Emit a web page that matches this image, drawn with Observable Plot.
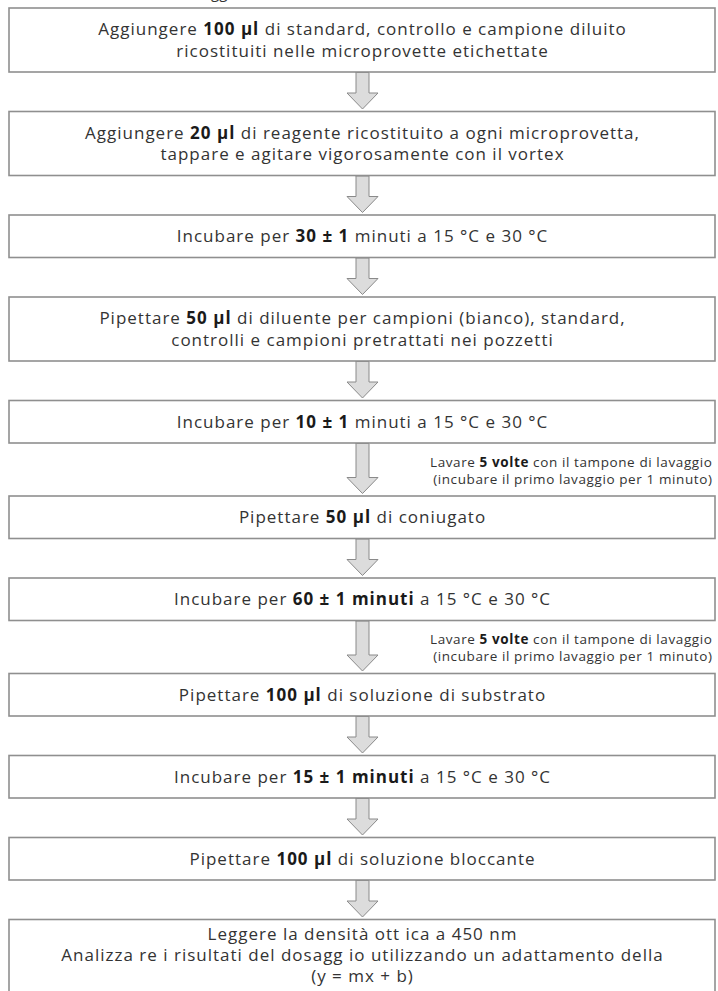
<!DOCTYPE html>
<html><head><meta charset="utf-8">
<script src="https://cdn.jsdelivr.net/npm/d3@7"></script>
<script src="https://cdn.jsdelivr.net/npm/@observablehq/plot@0.6"></script>
<style>html,body{margin:0;padding:0;background:#fff;overflow:hidden}svg{display:block}</style>
</head><body><div id="chart"></div>
<script>
// ---- data ----
const heading = "Schema riassuntivo del dosaggio";
const stepLines = [
  ["Aggiungere **100 µl** di standard, controllo e campione diluito", "ricostituiti nelle microprovette etichettate"],
  ["Aggiungere **20 µl** di reagente ricostituito a ogni microprovetta,", "tappare e agitare vigorosamente con il vortex"],
  ["Incubare per **30 ± 1** minuti a 15 °C e 30 °C"],
  ["Pipettare **50 µl** di diluente per campioni (bianco), standard,", "controlli e campioni pretrattati nei pozzetti"],
  ["Incubare per **10 ± 1** minuti a 15 °C e 30 °C"],
  ["Pipettare **50 µl** di coniugato"],
  ["Incubare per **60 ± 1 minuti** a 15 °C e 30 °C"],
  ["Pipettare **100 µl** di soluzione di substrato"],
  ["Incubare per **15 ± 1 minuti** a 15 °C e 30 °C"],
  ["Pipettare **100 µl** di soluzione bloccante"],
  ["Leggere la densità ott ica a 450 nm", "Analizza re i risultati del dosagg io utilizzando un adattamento della", "(y = mx + b)"]
];
const noteAfterStep = [4, 6];
const noteLines = ["Lavare **5 volte** con il tampone di lavaggio", "(incubare il primo lavaggio per 1 minuto)"];

// ---- layout (computed) ----
const W = 718, H = 991;
const L = {top: 8, left: 9, right: 715, lineH: 21.5, pad: 21, gap: 39.5, noteGap: 53};
const cx = (L.left + L.right) / 2;
const boxes = [], lines = [], arrows = [], notes = [];
let y = L.top;
stepLines.forEach((ls, i) => {
  const h = L.pad + L.lineH * ls.length;
  boxes.push({i, x1: L.left, x2: L.right, y1: y, y2: y + h});
  const vis = Math.min(h, H - y - 1);
  const sp = Math.min(L.lineH, (vis - 7.5) / ls.length);
  const start = y + (vis - sp * ls.length) / 2 + sp / 2;
  ls.forEach((t, j) => lines.push({x: cx, y: start + j * sp, text: t}));
  const hasNote = noteAfterStep.includes(i);
  const g = hasNote ? L.noteGap : L.gap;
  if (i < stepLines.length - 1) {
    const top = y + h, next = y + h + g;
    const pts = [[cx - 6.5, top], [cx + 6.5, top], [cx + 6.5, next - 19], [cx + 15.5, next - 19],
                 [cx, next - 3], [cx - 15.5, next - 19], [cx - 6.5, next - 19], [cx - 6.5, top]];
    pts.forEach(([px, py]) => arrows.push({id: i, x: px, y: py}));
    if (hasNote) noteLines.forEach((t, j) => notes.push({x: L.right - 3, y: top + 19 + j * 17, text: t}));
  }
  y += h + g;
});

const svg = Plot.plot({
  width: W, height: H, margin: 0,
  x: {domain: [0, W], range: [0, W], axis: null},
  y: {domain: [0, H], range: [0, H], axis: null},
  style: {fontFamily: "'Open Sans', sans-serif", background: "#fff", overflow: "visible"},
  marks: [
    Plot.line(arrows, {x: "x", y: "y", z: "id", fill: "#dcdcdc", stroke: "#8a8a8a", strokeWidth: 1, curve: "linear"}),
    Plot.rect(boxes, {x1: "x1", x2: "x2", y1: "y1", y2: "y2", fill: "white", stroke: "#8f8f8f", strokeWidth: 1.6}),
    Plot.text(lines, {x: "x", y: "y", text: "text", fontSize: 17, fill: "#333", textAnchor: "middle", className: "main"}),
    Plot.text(notes, {x: "x", y: "y", text: "text", fontSize: 13.5, fill: "#333", textAnchor: "end", className: "note"}),
    Plot.text([heading], {x: () => 12, y: () => -7, text: d => d, fontSize: 15, fill: "#333", textAnchor: "start"})
  ]
});

svg.querySelectorAll("g.main text").forEach(t => t.setAttribute("letter-spacing", "1"));
svg.querySelectorAll("g.note text").forEach(t => t.setAttribute("letter-spacing", "0.6"));
svg.querySelectorAll("text").forEach(t => {
  if (t.children.length || !t.textContent.includes("**")) return;
  const parts = t.textContent.split("**");
  t.textContent = "";
  parts.forEach((p, k) => {
    const s = document.createElementNS("http://www.w3.org/2000/svg", "tspan");
    s.textContent = p;
    if (k % 2) { s.setAttribute("font-weight", "bold"); s.setAttribute("fill", "#1a1a1a"); }
    t.appendChild(s);
  });
});
document.getElementById("chart").appendChild(svg);
</script>
</body></html>
